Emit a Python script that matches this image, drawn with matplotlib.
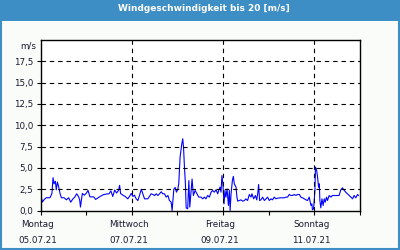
import matplotlib
matplotlib.use("Agg")
import matplotlib.pyplot as plt
import matplotlib.transforms as mtransforms
from matplotlib.patches import Rectangle

# wind speed readings, hours since Monday 05.07.21 00:00 (rows of 10)
hours = [
    0, 1, 2, 3, 4, 5, 6, 6.6, 7.1, 7.8,
    8.3, 8.9, 9.6, 10.3, 11, 12.4, 13.6, 14.8, 15.9, 17,
    18, 19, 20, 20.6, 21, 22, 23, 24, 25, 26,
    28, 29, 31, 33, 35, 36, 37, 38, 39, 40,
    41, 41.6,
    42.1, 43.3, 44.5, 45.9, 46.8, 47.7, 48.6, 49.4, 50.3, 51.2,
    52.1, 53.0, 53.8, 54.7, 55.6, 56.4, 57.3, 58.2, 59.1, 60.0,
    60.8, 61.7, 62.6, 63.5, 64.3, 65.2, 66.1, 67.0, 67.8, 68.7,
    69.2, 70.1, 70.8, 71.5, 72.2, 72.7, 73.4, 74.3, 74.8, 75.2,
    75.7, 76.2, 76.6, 77.4, 78.0, 78.5, 79.2, 79.7, 80.4, 81.3,
    82.3, 83.2,
    84.4, 85.3, 86.2, 87.0, 87.9, 88.8, 89.7, 90.5, 91.4, 92.3,
    93.2, 93.7, 94.4, 94.9, 95.4, 95.9, 96.5, 97.0, 97.5, 98.1,
    98.8, 99.3, 99.7, 100.2, 100.9, 101.4, 101.9, 102.8, 103.3, 103.7,
    104.5, 105.4, 106.3, 107.2, 108.0, 108.9, 109.8, 110.7, 111.2, 112.1,
    113.0, 113.7, 114.2, 114.7, 115.2, 115.9, 116.8, 117.7, 118.6, 119.4,
    120.3, 121.2, 122.0, 122.9, 123.8, 124.7,
    126.4, 128.2, 129.0, 129.9, 130.8, 131.7, 132.5, 133.4, 134.3, 135.2,
    136.1, 136.9, 137.8, 138.7, 139.6, 140.4, 141.3, 142.2, 142.7, 143.0,
    143.6, 144.3, 144.6, 145.2, 145.7, 146.2, 146.6, 146.9, 147.4, 148.0,
    148.6, 149.2, 149.7, 150.4, 150.9, 151.8, 152.7, 153.5, 154.4, 155.3,
    156.2, 157.0, 157.9, 158.8, 159.7, 160.5, 161.4, 162.3, 163.2, 164.1,
    164.9, 165.8, 166.7, 167.2,
]
speed = [
    1.96, 1.0, 1.3, 1.5, 1.5, 1.5, 2.0, 3.84, 3.13, 3.44,
    2.43, 3.33, 2.74, 1.96, 1.5, 1.5, 1.25, 1.5, 0.98, 1.35,
    1.57, 1.96, 1.64, 1.25, 0.4, 2.0, 1.8, 2.0, 2.35, 1.6,
    1.6, 1.3, 1.6, 1.85, 1.95, 1.95, 2.3, 1.65, 2.4, 2.05,
    2.35, 2.95,
    2.0, 1.8, 1.65, 1.37, 1.65, 2.0, 1.65, 1.8, 1.37, 1.17,
    1.8, 2.5, 1.96, 1.37, 1.37, 1.37, 1.65, 1.96, 1.88, 1.76,
    1.96, 1.76, 1.96, 2.2, 1.96, 1.96, 1.57, 1.76, 1.17, 0.98,
    0.0, 2.5, 2.7, 2.15, 2.5, 3.13, 6.26, 7.82, 8.41, 7.43,
    5.09, 3.13, 0.3, 0.2, 3.5, 0.4, 2.35, 3.7, 1.76, 2.35,
    1.96, 1.57,
    1.57, 1.37, 1.57, 1.37, 1.76, 1.57, 2.15, 2.35, 2.15, 2.43,
    1.96, 2.35, 2.74, 2.15, 4.1, 3.13, 0.78, 2.35, 1.57, 2.54,
    0.6, 2.35, 0.0, 1.96, 3.52, 4.0, 3.13, 2.74, 1.57, 1.1,
    1.17, 1.25, 1.1, 1.17, 1.37, 1.17, 1.88, 1.57, 1.96, 1.37,
    1.76, 1.25, 1.96, 3.05, 1.17, 1.25, 1.57, 1.17, 1.37, 1.57,
    1.17, 1.37, 1.25, 1.57, 1.37, 1.45,
    1.49, 1.49, 1.57, 1.57, 1.88, 1.76, 1.76, 1.88, 1.76, 1.88,
    1.88, 1.57, 1.49, 1.37, 1.25, 1.17, 1.57, 0.59, 0.78, 0.08,
    0.2, 2.35, 5.09, 4.7, 3.91, 2.74, 3.13, 1.17, 0.31, 1.37,
    0.59, 1.37, 0.98, 1.57, 1.17, 1.76, 1.57, 1.76, 1.76, 1.76,
    1.76, 1.76, 2.43, 2.66, 2.35, 2.15, 1.96, 1.76, 1.57, 1.37,
    1.76, 1.49, 1.88, 1.76,
]

day_names = ["Montag", "Mittwoch", "Freitag", "Sonntag"]
day_dates = ["05.07.21", "07.07.21", "09.07.21", "11.07.21"]
y_ticks = [0, 2.5, 5, 7.5, 10, 12.5, 15, 17.5]

frame_blue = "#3c8ec4"
bg = "#f9fcf9"
text_col = "#1a1a2e"

fig = plt.figure(figsize=(4, 2.5), dpi=100, facecolor=bg)

# title bar and outer frame
fig.patches.append(Rectangle((0, 0.918), 1, 0.082, transform=fig.transFigure,
                             facecolor=frame_blue, edgecolor="none", zorder=0))
fig.patches.append(Rectangle((0.002, 0.004), 0.995, 0.99, transform=fig.transFigure,
                             facecolor="none", edgecolor=frame_blue, lw=1.5, zorder=1))
fig.text(0.51, 0.966, "Windgeschwindigkeit bis 20 [m/s]", color="white",
         fontsize=6.5, fontweight="bold", ha="center", va="center")

ax = fig.add_axes([40.5 / 400, 39.5 / 250, 319.5 / 400, 170.5 / 250])
ax.set_facecolor("white")
ax.plot([h / 24 for h in hours], speed, color="#0000ff", lw=0.8)

ax.set_xlim(0, 7)
ax.set_ylim(0, 20)

for d in [2, 4, 6]:
    ax.axvline(d, color="black", ls=(0, (4, 3.5)), lw=0.8)
for v in y_ticks[1:]:
    ax.axhline(v, color="black", ls=(0, (4, 3.5)), lw=0.8)

ax.set_yticks(y_ticks)
ax.set_yticklabels([f"{v:.1f}".replace(".", ",") for v in y_ticks],
                   fontsize=6.3, color=text_col)
ax.text(-0.012, 19.35, "m/s", transform=ax.get_yaxis_transform(), ha="right",
        va="center", fontsize=6.3, color=text_col)

ax.set_xticks([0, 2, 4, 6])
ax.set_xticklabels([f"{n}\n\n{d}" for n, d in zip(day_names, day_dates)],
                   fontsize=6.3, color=text_col, linespacing=0.82)
ax.set_xticks([1, 3, 5, 7], minor=True)
ax.tick_params(axis="both", which="both", direction="out", length=3,
               width=0.8, pad=2)
ax.tick_params(axis="x", which="major", pad=4)

# labels sit a little left of their ticks
shift = mtransforms.ScaledTranslation(-3 / 100, 0, fig.dpi_scale_trans)
for lab in ax.get_xticklabels():
    lab.set_transform(lab.get_transform() + shift)

for s in ax.spines.values():
    s.set_linewidth(1.0)
    s.set_color("black")

fig.savefig("out.png", dpi=100, facecolor=bg)
